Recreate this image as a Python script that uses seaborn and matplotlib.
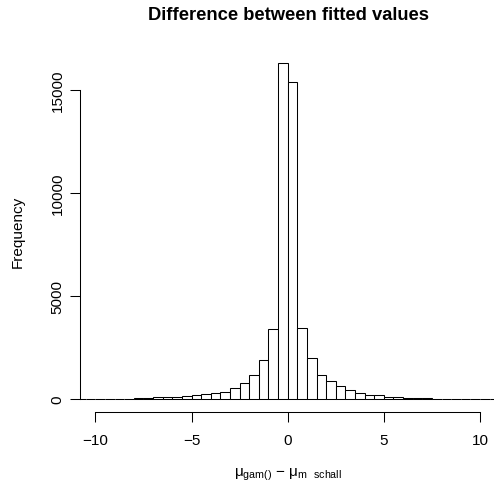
import numpy as np
import pandas as pd
import seaborn as sns
import matplotlib.pyplot as plt

# histogram: bins of width 0.5 from -12 to 12
bin_edges = list(np.arange(-12, 12.5, 0.5))
counts = [2, 3, 4, 5, 6, 8, 12, 18,
          40, 55, 80, 100, 107, 150, 170, 218, 282, 350, 544, 786,
          1175, 1883, 3374, 16310, 15373, 3456, 1980, 1140, 850, 607,
          445, 300, 204, 170, 107, 75, 55, 35, 25, 18, 12, 9, 6, 5,
          4, 3, 2, 2]
y_ticks = [0, 5000, 10000, 15000]
x_ticks = [-10, -5, 0, 5, 10]

mids = [(a + b) / 2 for a, b in zip(bin_edges[:-1], bin_edges[1:])]
df = pd.DataFrame({"diff": mids, "n": counts})

sns.set_style("ticks")
plt.rcParams["font.family"] = ["Liberation Sans", "DejaVu Sans"]
plt.rcParams["mathtext.fontset"] = "custom"
plt.rcParams["mathtext.rm"] = "Liberation Sans"
plt.rcParams["mathtext.default"] = "regular"
for k in ["text.color", "axes.labelcolor", "xtick.color", "ytick.color"]:
    plt.rcParams[k] = "black"

fig = plt.figure(figsize=(4.94, 4.85), dpi=100)
ax = fig.add_axes([80 / 494, (485 - 413.4) / 485, 415.4 / 494, 362.8 / 485])

sns.histplot(data=df, x="diff", weights="n", bins=bin_edges, ax=ax,
             color="white", edgecolor="black", linewidth=0.75, alpha=1)

ax.set_xlim(-10.8, 10.8)
ax.set_ylim(-652, 16962)

for s in ["top", "right"]:
    ax.spines[s].set_visible(False)
ax.spines["left"].set_bounds(0, 15000)
ax.spines["bottom"].set_bounds(-10, 10)
for s in ["left", "bottom"]:
    ax.spines[s].set_linewidth(0.75)
    ax.spines[s].set_color("black")

ax.set_xticks(x_ticks)
ax.set_xticklabels(["\u221210", "\u22125", "0", "5", "10"])
ax.set_yticks(y_ticks)
ax.set_yticklabels([str(v) for v in y_ticks], rotation=90, va="center")
ax.tick_params(length=7, width=0.75, labelsize=11)
ax.tick_params(axis="x", pad=8)
ax.tick_params(axis="y", pad=4)

ax.set_xlabel(r"μ$_{gam()}$ − μ$_{m\ \ schall}$", fontsize=11, labelpad=13)
ax.set_ylabel("Frequency", fontsize=11, labelpad=19)
fig.suptitle("Difference between fitted values", fontsize=13.2,
             fontweight="bold", x=288 / 494, y=1 - 16 / 485, va="center")

fig.savefig("out.png", dpi=100)
